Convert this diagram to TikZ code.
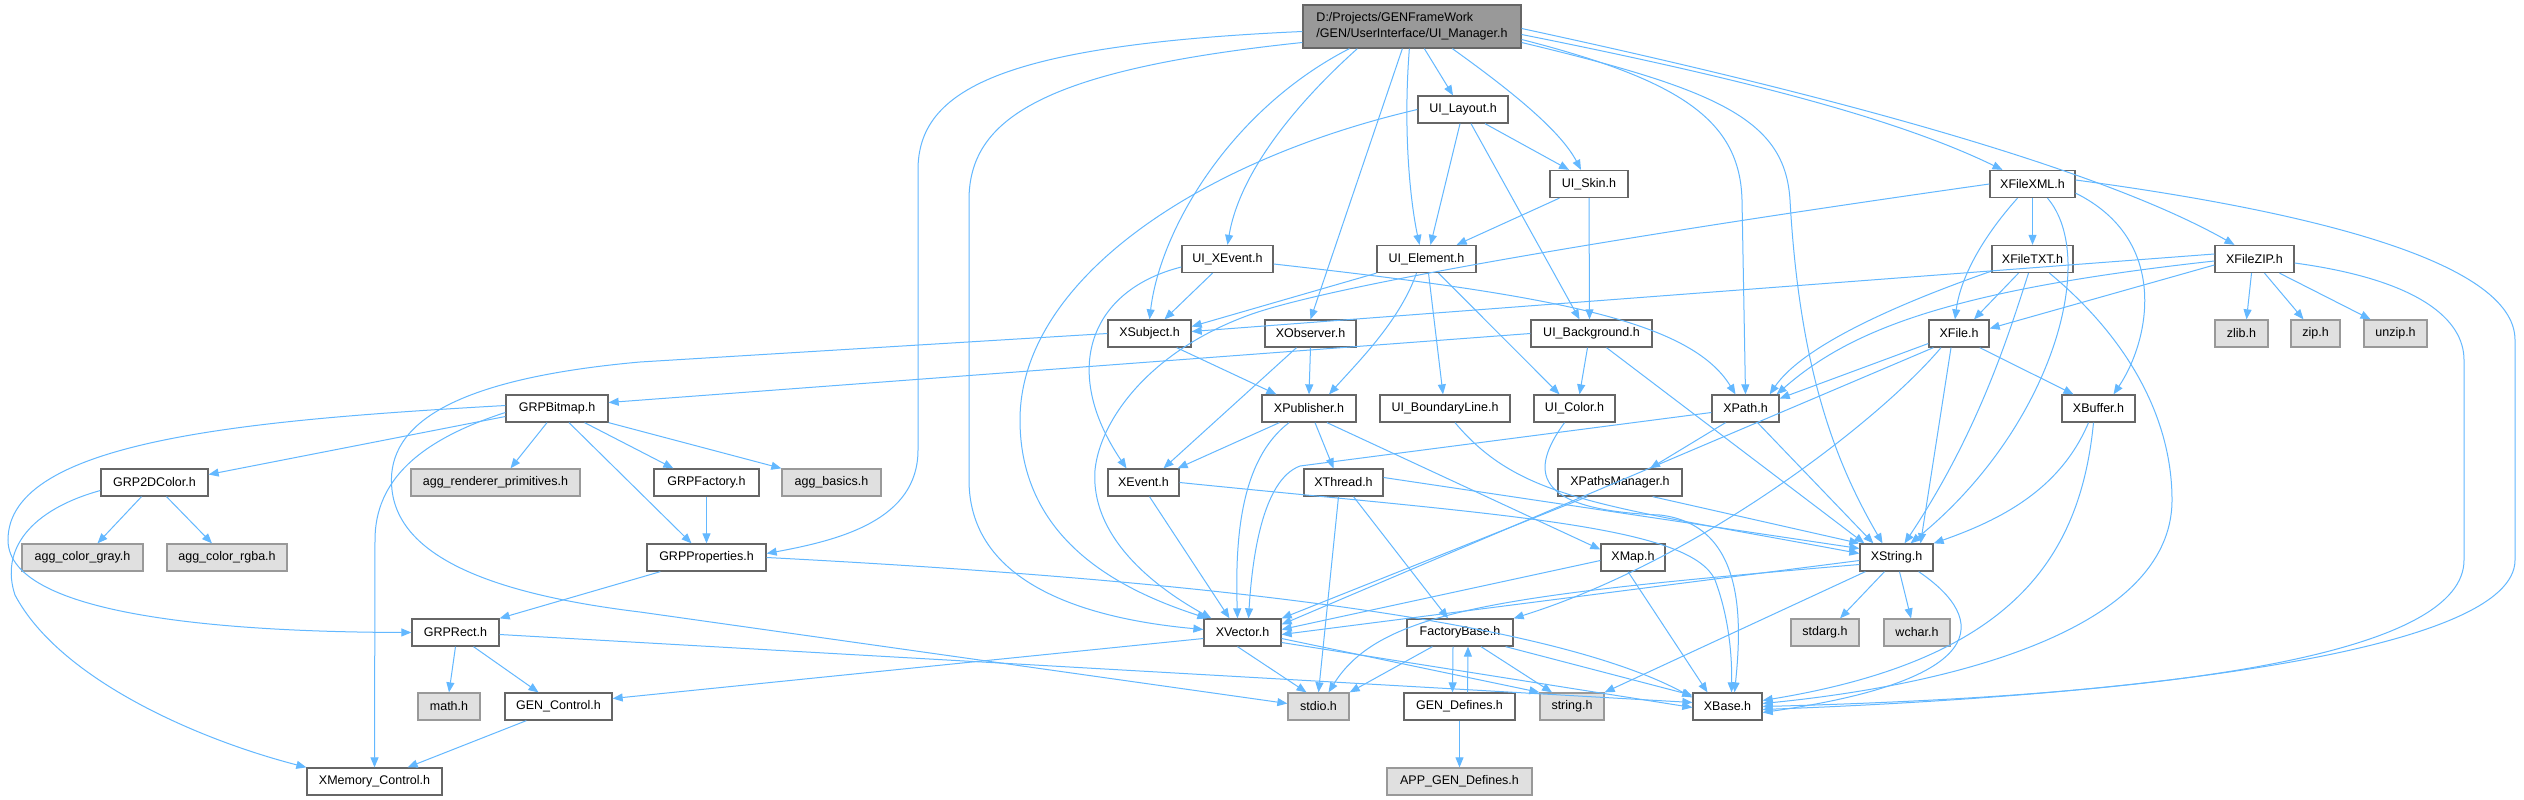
\documentclass[tikz,border=0pt]{standalone}
\usepackage{fontspec}
\setmainfont{Liberation Sans}
\usetikzlibrary{arrows.meta,calc}
\definecolor{edgec}{HTML}{63B8FF}
\definecolor{bordc}{HTML}{666666}
\definecolor{sysfill}{HTML}{E0E0E0}
\definecolor{sysbord}{HTML}{999999}
\definecolor{mainfill}{HTML}{999999}
\begin{document}
\begin{tikzpicture}[x=1pt,y=-1pt,
 box/.style={draw=bordc, fill=white, line width=1.3pt, minimum height=27pt, inner sep=0pt, font=\fontsize{12.5}{16}\selectfont},
 sys/.style={box, draw=sysbord, fill=sysfill},
 mainbox/.style={box, fill=mainfill, minimum height=43pt, align=left},
 edge/.style={draw=edgec, line width=1pt, -{Triangle[length=10pt,width=8pt]}}]
\useasboundingbox (0,0) rectangle (2524,800);
\fill[white] (0,0) rectangle (2524,800);

% nodes
\node[mainbox, minimum width=218pt] (main) at (1412,26.5) {D:/Projects/GENFrameWork\\/GEN/UserInterface/UI\_Manager.h};
\node[box, minimum width=90pt] (layout) at (1463,109.5) {UI\_Layout.h};
\node[box, minimum width=78pt] (skin) at (1589,184) {UI\_Skin.h};
\node[box, minimum width=91pt] (uixevent) at (1227.5,259) {UI\_XEvent.h};
\node[box, minimum width=99pt] (element) at (1426.5,259) {UI\_Element.h};
\node[box, minimum width=85pt] (fxml) at (2032.5,184) {XFileXML.h};
\node[box, minimum width=81pt] (ftxt) at (2032.5,259) {XFileTXT.h};
\node[box, minimum width=79pt] (fzip) at (2254.5,259) {XFileZIP.h};
\node[box, minimum width=83pt] (subject) at (1149.5,333.5) {XSubject.h};
\node[box, minimum width=91pt] (observer) at (1310.5,333.5) {XObserver.h};
\node[box, minimum width=121pt] (background) at (1591.5,333.5) {UI\_Background.h};
\node[box, minimum width=60pt] (xfile) at (1959,333.5) {XFile.h};
\node[sys, minimum width=53pt] (zlib) at (2241.5,333.5) {zlib.h};
\node[sys, minimum width=49pt] (zip) at (2315.5,333.5) {zip.h};
\node[sys, minimum width=63pt] (unzip) at (2395.5,333.5) {unzip.h};
\node[box, minimum width=102pt] (bitmap) at (557,408.5) {GRPBitmap.h};
\node[box, minimum width=94pt] (publisher) at (1309,408.5) {XPublisher.h};
\node[box, minimum width=130pt] (boundary) at (1445,408.5) {UI\_BoundaryLine.h};
\node[box, minimum width=81pt] (uicolor) at (1574.5,408.5) {UI\_Color.h};
\node[box, minimum width=67pt] (xpath) at (1745.5,408.5) {XPath.h};
\node[box, minimum width=73pt] (xbuffer) at (2098.5,408.5) {XBuffer.h};
\node[box, minimum width=107pt] (color2d) at (154.5,482.5) {GRP2DColor.h};
\node[sys, minimum width=169pt] (aggrp) at (495.5,482.5) {agg\_renderer\_primitives.h};
\node[box, minimum width=105pt] (factory) at (706.5,482.5) {GRPFactory.h};
\node[sys, minimum width=99pt] (aggbasics) at (831.5,482.5) {agg\_basics.h};
\node[box, minimum width=71pt] (xevent) at (1143.5,482.5) {XEvent.h};
\node[box, minimum width=79pt] (xthread) at (1343.5,482.5) {XThread.h};
\node[box, minimum width=124pt] (pathsmgr) at (1620,482.5) {XPathsManager.h};
\node[sys, minimum width=121pt] (agggray) at (82.5,557.5) {agg\_color\_gray.h};
\node[sys, minimum width=120pt] (aggrgba) at (227,557.5) {agg\_color\_rgba.h};
\node[box, minimum width=119pt] (props) at (706.5,557.5) {GRPProperties.h};
\node[box, minimum width=64pt] (xmap) at (1633,557.5) {XMap.h};
\node[box, minimum width=73pt] (xstring) at (1896.5,557.5) {XString.h};
\node[box, minimum width=87pt] (rect) at (455.5,632.5) {GRPRect.h};
\node[box, minimum width=77pt] (xvector) at (1242.5,632.5) {XVector.h};
\node[box, minimum width=106pt] (fbase) at (1460,632.5) {FactoryBase.h};
\node[sys, minimum width=68pt] (stdarg) at (1825,632.5) {stdarg.h};
\node[sys, minimum width=66pt] (wchar) at (1917,632.5) {wchar.h};
\node[sys, minimum width=62pt] (math) at (449,706.5) {math.h};
\node[box, minimum width=107pt] (gencontrol) at (558.5,706.5) {GEN\_Control.h};
\node[sys, minimum width=61pt] (stdio) at (1318.5,706.5) {stdio.h};
\node[box, minimum width=111pt] (gendefines) at (1459.5,706.5) {GEN\_Defines.h};
\node[sys, minimum width=64pt] (string) at (1572,706.5) {string.h};
\node[box, minimum width=69pt] (xbase) at (1727.5,706.5) {XBase.h};
\node[box, minimum width=135pt] (xmemory) at (374.5,781.5) {XMemory\_Control.h};
\node[sys, minimum width=145pt] (appgen) at (1459.5,781.5) {APP\_GEN\_Defines.h};

% main edges
\draw[edge] ($(main.west)+(0,5)$) .. controls (1000,45) and (918,90) .. (918,170) -- (918,450) .. controls (918,520) and (840,540) .. ($(props.east)+(0,-4)$);
\draw[edge] ($(main.west)+(0,16)$) .. controls (1040,70) and (969,120) .. (969,200) -- (969,480) .. controls (969,590) and (1100,620) .. ($(xvector.west)+(0,-3)$);
\draw[edge] ($(main.south west)+(47,0)$) .. controls (1230,110) and (1160,230) .. (subject.north);
\draw[edge] ($(main.south west)+(55,0)$) .. controls (1300,100) and (1240,170) .. (uixevent.north);
\draw[edge] ($(main.south west)+(100,0)$) -- (observer.north);
\draw[edge] ($(main.south west)+(107,0)$) .. controls (1403,130) and (1410,200) .. ($(element.north)+(-7,0)$);
\draw[edge] ($(main.south west)+(122,0)$) -- ($(layout.north)+(-10,0)$);
\draw[edge] ($(main.south west)+(150,0)$) .. controls (1510,90) and (1560,130) .. ($(skin.north)+(-8,0)$);
\draw[edge] ($(main.east)+(0,13)$) .. controls (1680,80) and (1740,120) .. (1742,200) -- (xpath.north);
\draw[edge] ($(main.east)+(0,16)$) .. controls (1720,90) and (1785,120) .. (1790,200) .. controls (1800,380) and (1840,470) .. ($(xstring.north)+(-14,0)$);
\draw[edge] ($(main.east)+(0,8)$) .. controls (1750,80) and (1900,120) .. ($(fxml.north)+(-30,0)$);
\draw[edge] ($(main.east)+(0,2)$) .. controls (1900,110) and (2120,180) .. ($(fzip.north)+(-20,0)$);

% UI_Layout
\draw[edge] ($(layout.south)+(22,0)$) -- ($(skin.north)+(-20,0)$);
\draw[edge] ($(layout.south)+(-3,0)$) -- ($(element.north)+(4,0)$);
\draw[edge] ($(layout.south)+(8,0)$) -- ($(background.north)+(-12,0)$);
\draw[edge] (layout.west) .. controls (1200,160) and (1020,280) .. (1020,420) .. controls (1020,540) and (1120,590) .. ($(xvector.north west)+(4,0)$);

% UI_Skin
\draw[edge] ($(skin.south west)+(10,0)$) -- ($(element.north east)+(-20,0)$);
\draw[edge] (skin.south) -- ($(background.north)+(-2,0)$);

% UI_XEvent
\draw[edge] ($(uixevent.south)+(-15,0)$) -- ($(subject.north)+(15,0)$);
\draw[edge] ($(uixevent.west)+(0,8)$) .. controls (1090,290) and (1060,370) .. ($(xevent.north)+(-17,0)$);
\draw[edge] ($(uixevent.east)+(0,5)$) .. controls (1550,295) and (1690,320) .. ($(xpath.north)+(-10,0)$);

% UI_Element
\draw[edge] (element.south west) -- ($(subject.east)+(0,-7)$);
\draw[edge] ($(element.south)+(-10,0)$) .. controls (1400,320) and (1360,360) .. ($(publisher.north)+(20,0)$);
\draw[edge] ($(element.south)+(2,0)$) -- ($(boundary.north)+(-2,0)$);
\draw[edge] ($(element.south)+(12,0)$) -- ($(uicolor.north)+(-15,0)$);

% XFileXML
\draw[edge] (fxml.south) -- (ftxt.north);
\draw[edge] ($(fxml.south)+(-15,0)$) .. controls (1980,240) and (1960,280) .. ($(xfile.north)+(-4,0)$);
\draw[edge] ($(fxml.south)+(15,0)$) .. controls (2100,260) and (2050,430) .. ($(xstring.north)+(14,0)$);
\draw[edge] ($(fxml.south east)+(0,-5)$) .. controls (2170,240) and (2150,340) .. ($(xbuffer.north)+(15,0)$);
\draw[edge] ($(fxml.east)+(0,-4)$) .. controls (2300,210) and (2515,260) .. (2515,340) -- (2515,560) .. controls (2515,650) and (2150,695) .. ($(xbase.east)+(0,3)$);
\draw[edge] (fxml.west) .. controls (1700,225) and (1350,280) .. (1252,314) .. controls (1150,350) and (1100,420) .. (1095,470) .. controls (1090,540) and (1160,590) .. ($(xvector.north west)+(8,0)$);

% XFileTXT
\draw[edge] ($(ftxt.south)+(-14,0)$) -- ($(xfile.north)+(15,0)$);
\draw[edge] ($(ftxt.south west)+(0,-2)$) .. controls (1880,310) and (1800,350) .. ($(xpath.north east)+(-10,0)$);
\draw[edge] ($(ftxt.south)+(-4,0)$) .. controls (2010,330) and (1980,430) .. ($(xstring.north)+(8,0)$);
\draw[edge] ($(ftxt.south)+(17,0)$) .. controls (2130,340) and (2172,420) .. (2172,500) .. controls (2172,630) and (1950,685) .. ($(xbase.east)+(0,-3)$);

% XFileZIP
\draw[edge] ($(fzip.south)+(-3,0)$) -- ($(zlib.north)+(5,0)$);
\draw[edge] ($(fzip.south)+(10,0)$) -- ($(zip.north)+(-12,0)$);
\draw[edge] ($(fzip.south)+(25,0)$) -- ($(unzip.north)+(-25,0)$);
\draw[edge] ($(fzip.west)+(0,6)$) -- ($(xfile.east)+(0,-5)$);
\draw[edge] ($(fzip.west)+(0,-5)$) -- ($(subject.east)+(0,-2)$);
\draw[edge] ($(fzip.west)+(0,2)$) .. controls (1950,290) and (1850,330) .. ($(xpath.north east)+(-3,0)$);
\draw[edge] ($(fzip.east)+(0,4)$) .. controls (2420,280) and (2464,320) .. (2464,360) -- (2464,560) .. controls (2464,650) and (2200,695) .. (xbase.east);

% XSubject
\draw[edge] ($(subject.south east)+(-15,0)$) -- ($(publisher.north west)+(15,0)$);
\draw[edge] (subject.west) -- (640,362) .. controls (440,380) and (385,430) .. (392,490) .. controls (400,560) and (500,595) .. (640,612) -- ($(stdio.west)+(0,-3)$);

% XObserver
\draw[edge] (observer.south) -- (publisher.north);
\draw[edge] ($(observer.south)+(-14,0)$) -- ($(xevent.north)+(20,0)$);

% UI_Background
\draw[edge] (background.west) -- ($(bitmap.east)+(0,-6)$);
\draw[edge] ($(background.south)+(-4,0)$) -- ($(uicolor.north)+(5,0)$);
\draw[edge] ($(background.south)+(15,0)$) -- ($(xstring.north west)+(5,0)$);

% XFile
\draw[edge] ($(xfile.west)+(0,10)$) -- ($(xpath.east)+(0,-10)$);
\draw[edge] ($(xfile.south)+(-8,0)$) -- ($(xstring.north)+(24,0)$);
\draw[edge] ($(xfile.south east)+(-10,0)$) -- ($(xbuffer.north)+(-25,0)$);
\draw[edge] ($(xfile.south west)+(5,0)$) -- ($(xvector.east)+(0,-8)$);
\draw[edge] ($(xfile.south)+(-18,0)$) .. controls (1880,420) and (1700,560) .. (fbase.north east);

% GRPBitmap
\draw[edge] ($(bitmap.west)+(0,8)$) -- ($(color2d.east)+(0,-8)$);
\draw[edge] ($(bitmap.south)+(-10,0)$) -- ($(aggrp.north)+(15,0)$);
\draw[edge] (bitmap.south east) -- (aggbasics.north west);
\draw[edge] ($(bitmap.south east)+(-24,0)$) -- ($(factory.north west)+(20,0)$);
\draw[edge] ($(bitmap.south)+(12,0)$) -- ($(props.north)+(-15,0)$);
\draw[edge] ($(bitmap.west)+(0,4)$) .. controls (420,440) and (375,480) .. (375,540) -- (xmemory.north);
\draw[edge] ($(bitmap.west)+(0,-3)$) .. controls (250,420) and (8,440) .. (8,540) .. controls (8,620) and (250,632) .. (rect.west);

% XPublisher
\draw[edge] ($(publisher.south west)+(18,0)$) -- ($(xevent.north east)+(-2,0)$);
\draw[edge] ($(publisher.south)+(-20,0)$) .. controls (1240,460) and (1235,540) .. ($(xvector.north)+(-5,0)$);
\draw[edge] ($(publisher.south)+(6,0)$) -- ($(xthread.north)+(-10,0)$);
\draw[edge] ($(publisher.south)+(18,0)$) -- ($(xmap.west)+(0,-8)$);

% UI_BoundaryLine, UI_Color
\draw[edge] ($(boundary.south)+(10,0)$) .. controls (1520,500) and (1600,505) .. ($(xstring.west)+(0,-4)$);
\draw[edge] ($(uicolor.south)+(-10,0)$) .. controls (1530,470) and (1530,510) .. (1660,515) .. controls (1745,525) and (1742,620) .. ($(xbase.north)+(7,0)$);

% XPath
\draw[edge] ($(xpath.south)+(-20,0)$) -- ($(pathsmgr.north)+(30,0)$);
\draw[edge] ($(xpath.south)+(12,0)$) -- ($(xstring.north west)+(14,0)$);
\draw[edge] ($(xpath.west)+(0,4)$) -- (1300,466) .. controls (1262,480) and (1252,560) .. ($(xvector.north)+(6,0)$);

% XBuffer
\draw[edge] ($(xbuffer.south)+(-10,0)$) .. controls (2060,490) and (2000,520) .. (xstring.north east);
\draw[edge] ($(xbuffer.south)+(-5,0)$) .. controls (2080,560) and (2010,660) .. ($(xbase.east)+(0,-6)$);

% GRP2DColor
\draw[edge] ($(color2d.south)+(-13,0)$) -- ($(agggray.north)+(15,0)$);
\draw[edge] ($(color2d.south)+(12,0)$) -- ($(aggrgba.north)+(-15,0)$);
\draw[edge] ($(color2d.west)+(0,8)$) .. controls (30,510) and (0,550) .. (15,595) .. controls (60,680) and (200,740) .. (xmemory.north west);

% GRPFactory
\draw[edge] (factory.south) -- (props.north);

% XEvent
\draw[edge] ($(xevent.south)+(6,0)$) -- ($(xvector.north)+(-13,0)$);
\draw[edge] (xevent.east) .. controls (1500,515) and (1690,525) .. (1715,580) .. controls (1730,620) and (1732,660) .. ($(xbase.north)+(4,0)$);

% XThread
\draw[edge] ($(xthread.east)+(0,-5)$) -- ($(xstring.west)+(0,-9)$);
\draw[edge] ($(xthread.south)+(-5,0)$) -- (stdio.north);
\draw[edge] ($(xthread.south)+(10,0)$) -- ($(fbase.north)+(-12,0)$);

% XPathsManager
\draw[edge] ($(pathsmgr.south west)+(30,0)$) -- (xvector.north east);
\draw[edge] ($(pathsmgr.south east)+(-30,0)$) -- (xstring.north west);

% GRPProperties
\draw[edge] ($(props.south west)+(14,0)$) -- (rect.north east);
\draw[edge] (props.east) .. controls (1200,580) and (1550,620) .. ($(xbase.west)+(0,-9)$);

% XMap
\draw[edge] ($(xmap.west)+(0,3)$) -- ($(xvector.east)+(0,-3)$);
\draw[edge] ($(xmap.south)+(-5,0)$) -- ($(xbase.north)+(-20,0)$);

% XString
\draw[edge] ($(xstring.west)+(0,3)$) -- ($(xvector.east)+(0,2)$);
\draw[edge] ($(xstring.west)+(0,7)$) .. controls (1500,595) and (1380,610) .. ($(stdio.north)+(10,0)$);
\draw[edge] ($(xstring.south west)+(6,0)$) -- (string.north east);
\draw[edge] ($(xstring.south)+(-12,0)$) -- ($(stdarg.north)+(15,0)$);
\draw[edge] ($(xstring.south)+(3,0)$) -- ($(wchar.north)+(-6,0)$);
\draw[edge] ($(xstring.south east)+(-15,0)$) .. controls (1990,620) and (1990,680) .. ($(xbase.east)+(0,6)$);

% GRPRect
\draw[edge] (rect.south) -- (math.north);
\draw[edge] ($(rect.south)+(18,0)$) -- ($(gencontrol.north)+(-20,0)$);
\draw[edge] ($(rect.east)+(0,2)$) -- ($(xbase.west)+(0,-4)$);

% XVector
\draw[edge] ($(xvector.south)+(-5,0)$) -- ($(stdio.north)+(-12,0)$);
\draw[edge] ($(xvector.east)+(0,6)$) -- (string.north west);
\draw[edge] ($(xvector.east)+(0,10)$) -- ($(xbase.west)+(0,1)$);
\draw[edge] ($(xvector.west)+(0,6)$) -- ($(gencontrol.east)+(0,-8)$);

% FactoryBase
\draw[edge] ($(fbase.south west)+(26,0)$) -- (stdio.north east);
\draw[edge] ($(fbase.south)+(-7,0)$) -- ($(gendefines.north)+(-7,0)$);
\draw[edge] ($(gendefines.north)+(8,0)$) -- ($(fbase.south)+(8,0)$);
\draw[edge] ($(fbase.south)+(21,0)$) -- ($(string.north)+(-20,0)$);
\draw[edge] ($(fbase.south east)+(-8,0)$) -- ($(xbase.north west)+(0,3)$);

% GEN_Defines, GEN_Control
\draw[edge] (gendefines.south) -- (appgen.north);
\draw[edge] ($(gencontrol.south west)+(22,0)$) -- ($(xmemory.north east)+(-35,0)$);
\end{tikzpicture}
\end{document}
